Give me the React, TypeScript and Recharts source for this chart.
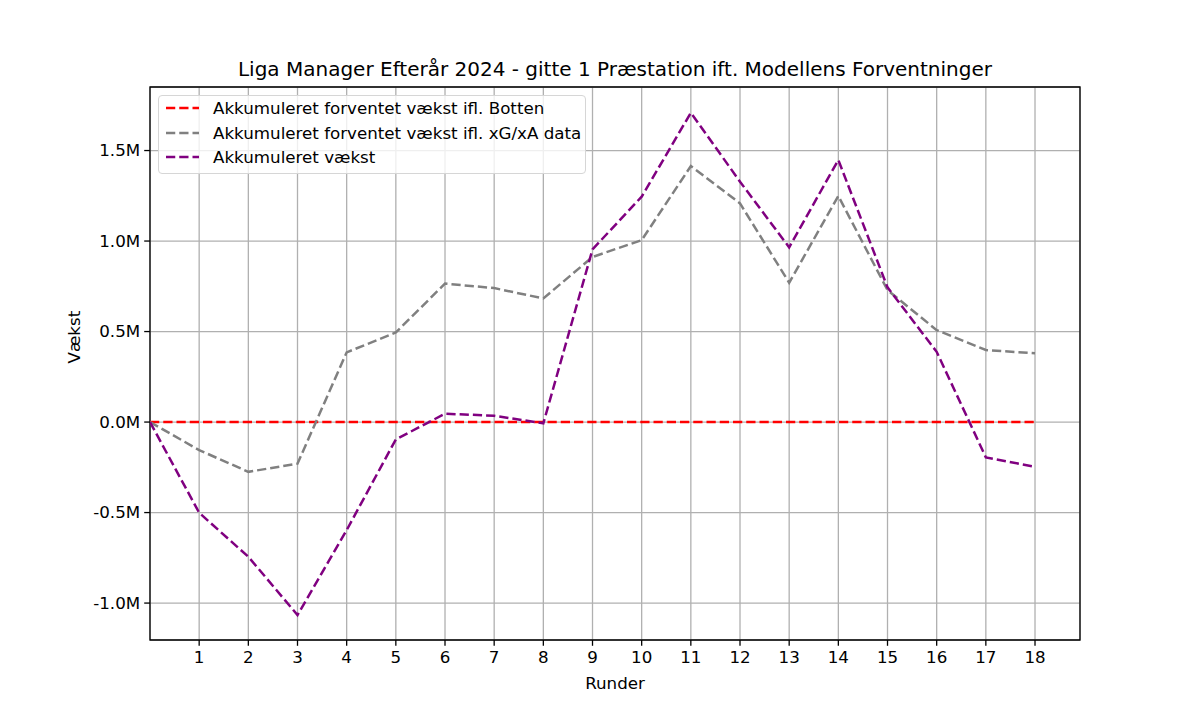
import { LineChart, Line, XAxis, YAxis, CartesianGrid, ReferenceArea } from 'recharts';

const rounds = [0, 1, 2, 3, 4, 5, 6, 7, 8, 9, 10, 11, 12, 13, 14, 15, 16, 17, 18];
const botten = [0, 0, 0, 0, 0, 0, 0, 0, 0, 0, 0, 0, 0, 0, 0, 0, 0, 0, 0];
const xgxa = [
  0, -155000, -275000, -230000, 385000, 495000, 765000, 740000, 683000, 912000,
  1005000, 1414000, 1208000, 770000, 1249000, 729000, 508000, 398000, 380000,
];
const actual = [
  0, -501000, -744000, -1066000, -597000, -96000, 46000, 35000, -7000, 954000,
  1245000, 1709000, 1328000, 965000, 1448000, 744000, 388000, -195000, -247000,
];
const xTicks = [1, 2, 3, 4, 5, 6, 7, 8, 9, 10, 11, 12, 13, 14, 15, 16, 17, 18];
const yTicks = [-1000000, -500000, 0, 500000, 1000000, 1500000];

const X_DOMAIN: [number, number] = [0, 18.915];
const Y_DOMAIN: [number, number] = [-1204000, 1851000];

const FONT = 'DejaVu Sans, sans-serif';
const DASH = '9.25 4';
const LW = 2.5;

const series = [
  { key: 'botten', name: 'Akkumuleret forventet vækst ifl. Botten', color: '#ff0000' },
  { key: 'xgxa', name: 'Akkumuleret forventet vækst ifl. xG/xA data', color: '#808080' },
  { key: 'actual', name: 'Akkumuleret vækst', color: '#800080' },
];

const data = rounds.map((r, i) => ({
  round: r,
  botten: botten[i],
  xgxa: xgxa[i],
  actual: actual[i],
}));

const LegendBox = () => (
  <div
    style={{
      position: 'absolute',
      left: 158,
      top: 95,
      boxSizing: 'border-box',
      width: 428,
      height: 79,
      border: '1px solid #d6d6d6',
      borderRadius: 4,
      background: 'rgba(255,255,255,0.8)',
      padding: '0 0 0 7px',
      fontFamily: FONT,
      fontSize: 16.7,
      color: '#000',
    }}
  >
    {series.map((s) => (
      <div key={s.key} style={{ display: 'flex', alignItems: 'center', height: 24.5 }}>
        <svg width={33} height={6} style={{ marginRight: 14 }}>
          <line x1={0} y1={3} x2={33} y2={3} stroke={s.color} strokeWidth={LW} strokeDasharray={DASH} />
        </svg>
        <span>{s.name}</span>
      </div>
    ))}
  </div>
);

export default function App() {
  return (
    <div style={{ position: 'absolute', left: 0, top: 0, width: 1200, height: 720, background: '#fff' }}>
      <div
        style={{
          position: 'absolute',
          left: 150,
          width: 930,
          top: 57,
          textAlign: 'center',
          fontFamily: FONT,
          fontSize: 20,
          lineHeight: '24px',
        }}
      >
        Liga Manager Efterår 2024 - gitte 1 Præstation ift. Modellens Forventninger
      </div>
      <LineChart width={1200} height={720} data={data} margin={{ top: 87, right: 120, bottom: 0, left: 0 }}>
        <CartesianGrid stroke="#b0b0b0" strokeWidth={1.3} />
        <XAxis
          dataKey="round"
          type="number"
          domain={X_DOMAIN}
          ticks={xTicks}
          interval={0}
          height={80}
          allowDataOverflow
          tickLine={{ stroke: '#000', strokeWidth: 1.3 }}
          tickSize={5.8}
          tickMargin={5}
          tick={{ fill: '#000', fontFamily: FONT, fontSize: 16.7 }}
          axisLine={false}
          label={{ value: 'Runder', position: 'insideBottom', offset: 31, fill: '#000', fontFamily: FONT, fontSize: 16.7 }}
        />
        <YAxis
          type="number"
          domain={Y_DOMAIN}
          ticks={yTicks}
          interval={0}
          width={150}
          allowDataOverflow
          tickFormatter={(v: number) => `${(v / 1e6).toFixed(1)}M`}
          tickLine={{ stroke: '#000', strokeWidth: 1.3 }}
          tickSize={5.8}
          tickMargin={4}
          tick={{ fill: '#000', fontFamily: FONT, fontSize: 16.7 }}
          axisLine={false}
          label={{ value: 'Vækst', angle: -90, position: 'insideLeft', offset: 74, fill: '#000', fontFamily: FONT, fontSize: 16.7 }}
        />
        <ReferenceArea
          x1={X_DOMAIN[0]}
          x2={X_DOMAIN[1]}
          y1={Y_DOMAIN[0]}
          y2={Y_DOMAIN[1]}
          fill="none"
          stroke="#000"
          strokeWidth={1.3}
        />
        {series.map((s) => (
          <Line
            key={s.key}
            dataKey={s.key}
            name={s.name}
            stroke={s.color}
            strokeWidth={LW}
            strokeDasharray={DASH}
            dot={false}
            activeDot={false}
            type="linear"
            isAnimationActive={false}
          />
        ))}
      </LineChart>
      <LegendBox />
    </div>
  );
}
